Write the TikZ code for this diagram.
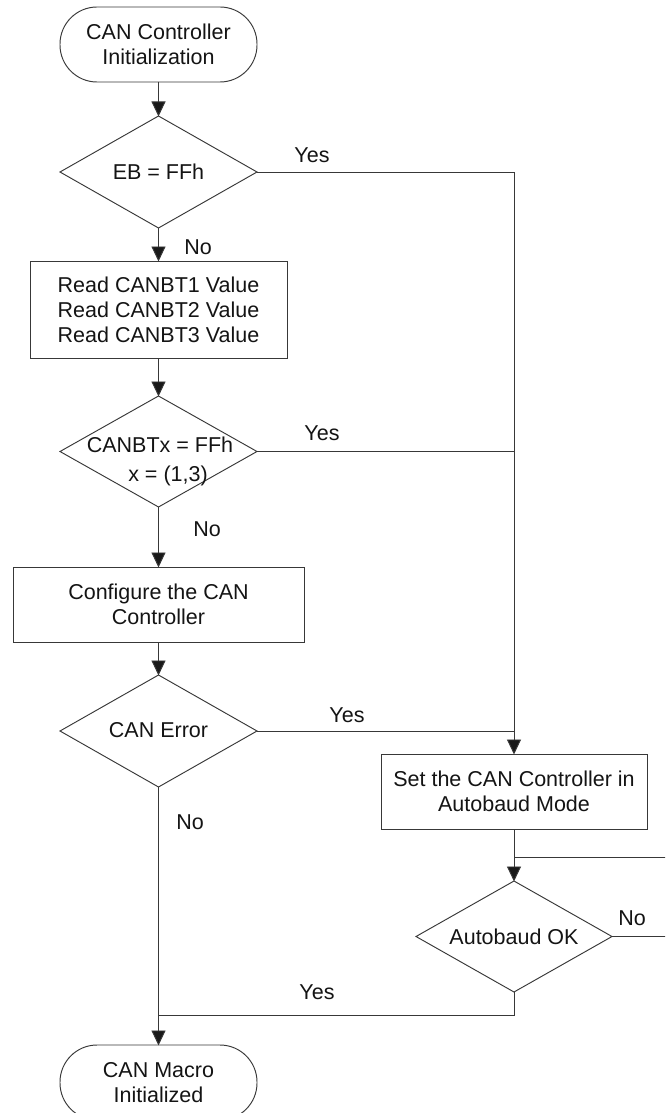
\documentclass[tikz,border=0pt]{standalone}
\usepackage{fontspec}
\setmainfont{Liberation Sans}
\usetikzlibrary{shapes.geometric,arrows.meta}
\begin{document}
\begin{tikzpicture}[x=1pt,y=-1pt,
  every node/.style={text=black!92,font=\fontsize{21.5}{25}\selectfont},
  ln/.style={draw=black!78,line width=0.95pt},
  arr/.style={ln,-{Triangle[width=14pt,length=15pt,fill=black!90]},shorten >=-0.5pt},
  term/.style={ln,rectangle,rounded corners=37pt,minimum width=197pt,minimum height=75pt,inner sep=0pt,outer sep=0pt,align=center},
  procbox/.style={ln,rectangle,inner sep=0pt,outer sep=0pt,align=center},
  dec/.style={ln,diamond,minimum width=197pt,minimum height=112pt,inner sep=0pt,outer sep=0pt},
  txt/.style={align=center,inner sep=0pt},
  lbl/.style={inner sep=0pt}
]
\useasboundingbox (0,0) rectangle (665,1113);
\clip (0,0) rectangle (665,1113);

% nodes
\node[term] (start) at (158.5,44.5) {CAN Controller\\Initialization};
\node[dec] (d1) at (158.5,172) {};
\node[txt] at (158.5,172) {EB = FFh};
\node[procbox,minimum width=257pt,minimum height=97pt] (read) at (158.5,309.5) {Read CANBT1 Value\\Read CANBT2 Value\\Read CANBT3 Value};
\node[dec,minimum height=111pt] (d2) at (158.5,451.5) {};
\node[txt] at (160,461) {CANBTx = FFh\\[4pt]\hspace*{16pt}x = (1,3)};
\node[procbox,minimum width=291pt,minimum height=75pt] (conf) at (158.5,604.5) {Configure the CAN\\Controller};
\node[dec] (d3) at (158.5,731) {};
\node[txt] at (158.5,730) {CAN Error};
\node[procbox,minimum width=266pt,minimum height=75pt] (setm) at (514,791.5) {Set the CAN Controller in\\Autobaud Mode};
\node[dec,minimum width=196pt,minimum height=111pt] (d4) at (514,936.5) {};
\node[txt] at (514,937) {Autobaud OK};
\node[term] (endt) at (158.5,1082.5) {CAN Macro\\Initialized};

\coordinate (loopR) at (690,936.5);
\coordinate (loopJ) at (514,857);
\coordinate (yesJ) at (514,1015);

% connectors
\draw[arr] (start) -- (d1);
\draw[arr] (d1) -- (read);
\draw[arr] (d1.east) -| (setm.north);
\draw[arr] (read) -- (d2);
\draw[ln] (d2.east) -- (d2.east -| setm.north);
\draw[arr] (d2) -- (conf);
\draw[arr] (conf) -- (d3);
\draw[ln] (d3.east) -- (d3.east -| setm.north);
\draw[arr] (d3) -- (endt);
\draw[arr] (setm) -- (d4);
\draw[ln] (d4.east) -- (loopR) |- (loopJ);
\draw[ln] (d4.south) -- (yesJ) -- (yesJ -| endt.north);

% labels
\node[lbl] at (312,155) {Yes};
\node[lbl] at (198,247) {No};
\node[lbl] at (322,433) {Yes};
\node[lbl] at (207,529) {No};
\node[lbl] at (347,715) {Yes};
\node[lbl] at (190,822) {No};
\node[lbl] at (632,918) {No};
\node[lbl] at (317,992) {Yes};
\end{tikzpicture}
\end{document}
